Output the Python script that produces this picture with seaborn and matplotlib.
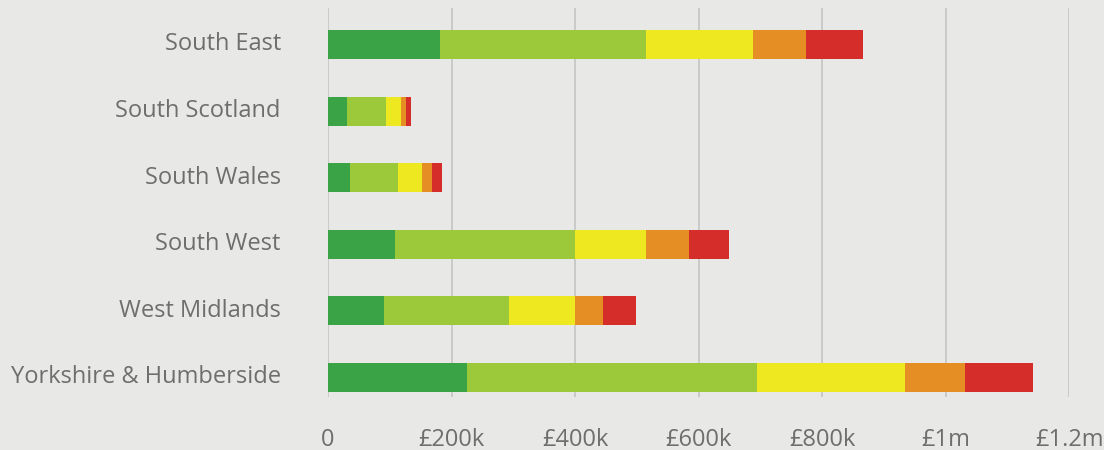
import numpy as np
import pandas as pd
import matplotlib
matplotlib.use("Agg")
import matplotlib.pyplot as plt
import matplotlib.transforms as mtrans
import seaborn as sns

# ── Data (values in £ thousands) ─────────────────────────────────────────────
regions = ["South East", "South Scotland", "South Wales", "South West",
           "West Midlands", "Yorkshire & Humberside"]
band_1 = [181, 31, 36, 108, 91, 225]
band_2 = [334, 63, 77, 292, 202, 469]
band_3 = [173, 24, 39, 115, 107, 241]
band_4 = [86, 8, 16, 70, 45, 96]
band_5 = [92, 8, 16, 65, 54, 110]

band_names = ["band_1", "band_2", "band_3", "band_4", "band_5"]
band_colors = ["#3aa346", "#9bc93a", "#ede81f", "#e48e24", "#d42d2a"]

x_ticks = [0, 200, 400, 600, 800, 1000, 1200]
x_labels = ["0", "£200k", "£400k", "£600k", "£800k", "£1m", "£1.2m"]

# ── Build cumulative table ───────────────────────────────────────────────────
df = pd.DataFrame({"region": regions, "band_1": band_1, "band_2": band_2,
                   "band_3": band_3, "band_4": band_4, "band_5": band_5})
cum = df[band_names].cumsum(axis=1)

BG = "#e8e8e6"
TXT = "#6e6e6e"

sns.set_style("white")
plt.rcParams["font.family"] = ["Open Sans", "DejaVu Sans"]

fig = plt.figure(figsize=(11.04, 4.5), dpi=100, facecolor=BG)
ax = fig.add_axes([328 / 1104, 53 / 450, 741 / 1104, 389 / 450])
ax.set_facecolor(BG)

# gridlines behind bars
for t in x_ticks:
    ax.axvline(t, color="#c4c4c4", lw=1.2, zorder=0)

# stacked look: draw cumulative totals, largest first
for name, color in reversed(list(zip(band_names, band_colors))):
    sns.barplot(x=cum[name], y=df["region"], color=color, width=0.435,
                orient="h", ax=ax, saturation=1, linewidth=0, zorder=2)

ax.set_xlim(0, 1200)
ax.set_ylim(5.293, -0.548)
ax.set_xticks(x_ticks)
ax.set_xticklabels(x_labels)
ax.set_xlabel("")
ax.set_ylabel("")
ax.tick_params(axis="both", length=0, labelsize=17, colors=TXT)
ax.tick_params(axis="y", pad=34)
ax.tick_params(axis="x", pad=22)
# labels sit a little above the bar centres in the original
shift = mtrans.ScaledTranslation(0, 3 / 100, fig.dpi_scale_trans)
for lbl in ax.get_yticklabels():
    lbl.set_transform(lbl.get_transform() + shift)
sns.despine(ax=ax, left=True, bottom=True)

fig.savefig("out.png", dpi=100, facecolor=BG)
